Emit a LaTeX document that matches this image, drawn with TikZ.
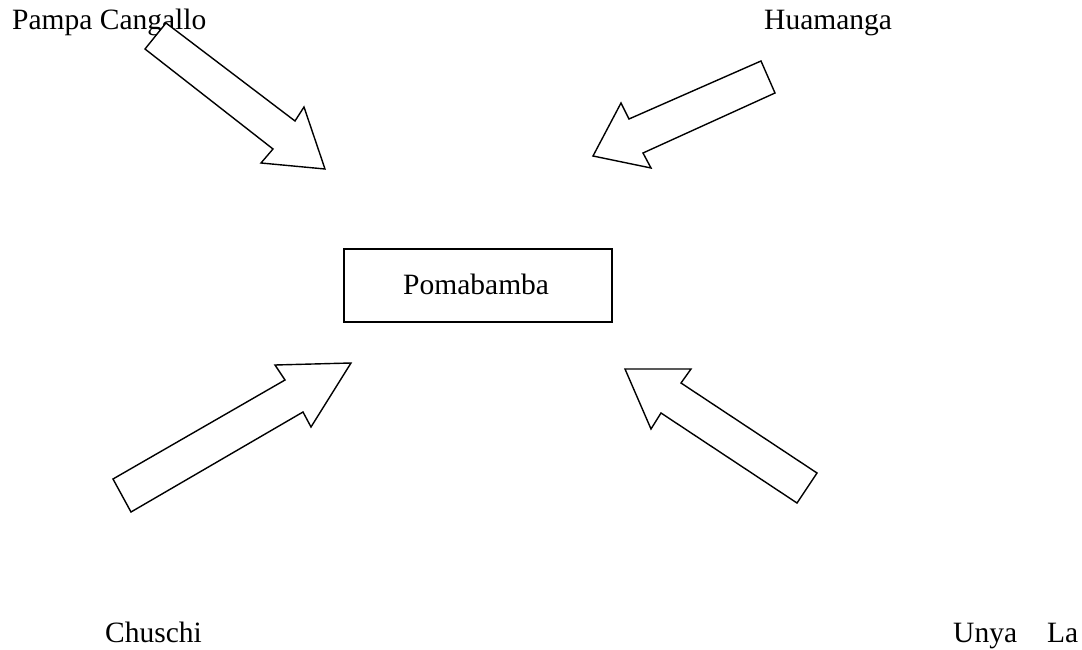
\documentclass[tikz,border=0pt]{standalone}
\usepackage{fontspec}
\setmainfont{Liberation Serif}
\begin{document}
\begin{tikzpicture}[x=1pt,y=-1pt,
  lbl/.style={anchor=base west,inner sep=0pt,font=\fontsize{29.5}{35}\selectfont},
  blockarrow/.style={draw=black,fill=white,line width=1.4pt,line join=miter},
  placebox/.style={draw=black,line width=1.4pt}]
\useasboundingbox (0,0) rectangle (1082,650);
% central box
\draw[placebox] (344,249) rectangle (612,322);
\node[lbl] (pom) at (403,294) {Pomabamba};
% labels
\node[lbl] (pampa) at (12,30) {Pampa Cangallo};
\node[lbl] (hua) at (764,30) {Huamanga};
\node[lbl] (chu) at (105,642) {Chuschi};
\node[lbl] (unya) at (953,642) {Unya\hspace{30pt}La};
% block arrows
\draw[blockarrow] (166,23) -- (295,121) -- (304,107) -- (325,169) -- (261,163) -- (273,149) -- (145,49) -- cycle;
\draw[blockarrow] (761,61) -- (629,119) -- (621,103) -- (593,156) -- (651,168) -- (643,153) -- (775,93) -- cycle;
\draw[blockarrow] (113,479) -- (285,380) -- (275,365) -- (351,363) -- (311,427) -- (303,412) -- (131,512) -- cycle;
\draw[blockarrow] (817,473) -- (681,383) -- (691,369) -- (625,369) -- (651,429) -- (661,413) -- (797,503) -- cycle;
\end{tikzpicture}
\end{document}
